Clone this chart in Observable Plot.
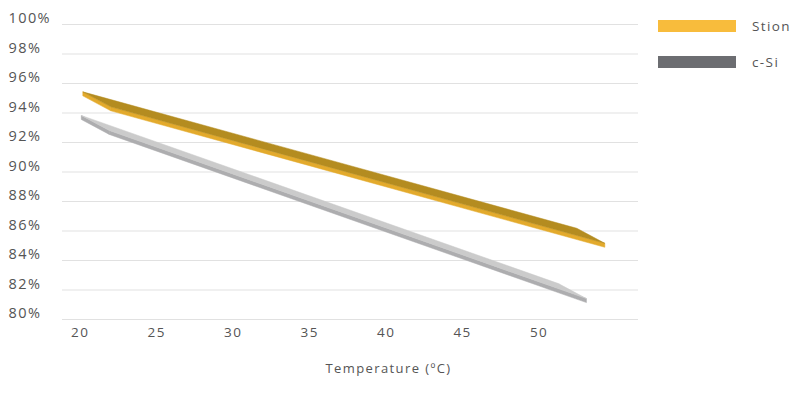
<!DOCTYPE html>
<html>
<head>
<meta charset="utf-8">
<script src="https://cdn.jsdelivr.net/npm/d3@7"></script>
<script src="https://cdn.jsdelivr.net/npm/@observablehq/plot@0.6"></script>
<style>
  html, body { margin: 0; padding: 0; background: #fff; }
  #wrap { position: relative; width: 800px; height: 397px; font-family: "Open Sans", sans-serif; }
  #wrap svg text { letter-spacing: 1.4px; }
  #legend { position: absolute; left: 658px; top: 20px; }
  .row { display: flex; align-items: center; height: 12px; margin-bottom: 24px; }
  .sw { width: 78px; height: 12px; }
  .lab { margin-left: 16px; font-size: 13.5px; color: #555; letter-spacing: 1.4px; line-height: 12px; }
</style>
</head>
<body>
<div id="wrap"><div id="legend"></div></div>
<script>
// ---- data ----
const series = ["Stion", "c-Si"];
const startTemp = [20.2, 20.1];
const endTemp = [52.5, 51.3];
const startEff = [95.4, 93.8];
const endEff = [86.15, 82.4];
const yTicks = [80, 82, 84, 86, 88, 90, 92, 94, 96, 98, 100];
const xTicks = [20, 25, 30, 35, 40, 45, 50];
const xLabel = "Temperature (ºC)";

// ---- styles ----
const topColors = ["#b48c20", "#cbcbcb"];
const frontColors = ["#e3aa2c", "#adadaf"];
const legendColors = ["#f8bc3c", "#6c6d71"];
const depth = [28, 15];   // 3D depth offset (px)
const thick = 4;          // front face height (px)

const rows = series.flatMap((s, i) => [
  {series: s, temp: startTemp[i], eff: startEff[i]},
  {series: s, temp: endTemp[i], eff: endEff[i]}
]);

function ribbon(index, scales, values) {
  const g = d3.create("svg:g");
  const X = values.x, Y = values.y;
  series.forEach((s, k) => {
    const idx = Array.from(index).filter(i => rows[i].series === s);
    if (idx.length < 2) return;
    const i0 = idx[0], i1 = idx[idx.length - 1];
    const B0 = [X[i0], Y[i0]], B1 = [X[i1], Y[i1]];
    const F0 = [B0[0] + depth[0], B0[1] + depth[1]];
    const F1 = [B1[0] + depth[0], B1[1] + depth[1]];
    const dn = p => [p[0], p[1] + thick];
    const poly = (pts, fill) => g.append("polygon")
      .attr("points", pts.map(p => p.join(",")).join(" "))
      .attr("fill", fill).attr("stroke", fill).attr("stroke-width", 0.5).attr("stroke-linejoin", "round");
    poly([B0, F0, dn(F0), dn(B0)], frontColors[k]);
    poly([F0, F1, dn(F1), dn(F0)], frontColors[k]);
    poly([B0, B1, F1, F0], topColors[k]);
  });
  return g.node();
}

const chart = Plot.plot({
  width: 800,
  height: 397,
  marginLeft: 62,
  marginRight: 162,
  marginTop: 24,
  marginBottom: 78,
  style: {fontFamily: "'Open Sans', sans-serif", fontSize: "13px", color: "#555", background: "transparent"},
  x: {domain: [18.84, 56.5]},
  y: {domain: [80, 100]},
  marks: [
    Plot.gridY(yTicks, {stroke: "#e1e1e1", strokeOpacity: 1, strokeWidth: 1}),
    Plot.axisY(yTicks, {tickSize: 0, tickPadding: 0, textAnchor: "start", dx: -54, dy: -6,
      tickFormat: d => d + "%", label: null, fontSize: 14.5}),
    Plot.axisX(xTicks, {tickSize: 0, tickPadding: 8, label: null, fontSize: 13.5}),
    Plot.text([xLabel], {frameAnchor: "bottom", text: d => d, dx: 38, dy: 53, fontSize: 13, fill: "#555"}),
    Plot.line(rows, {x: "temp", y: "eff", z: "series", render: ribbon})
  ]
});
document.getElementById("wrap").prepend(chart);

const legend = document.getElementById("legend");
series.forEach((s, i) => {
  const row = document.createElement("div");
  row.className = "row";
  const sw = document.createElement("div");
  sw.className = "sw";
  sw.style.background = legendColors[i];
  const lab = document.createElement("span");
  lab.className = "lab";
  lab.textContent = s;
  row.append(sw, lab);
  legend.append(row);
});
</script>
</body>
</html>
